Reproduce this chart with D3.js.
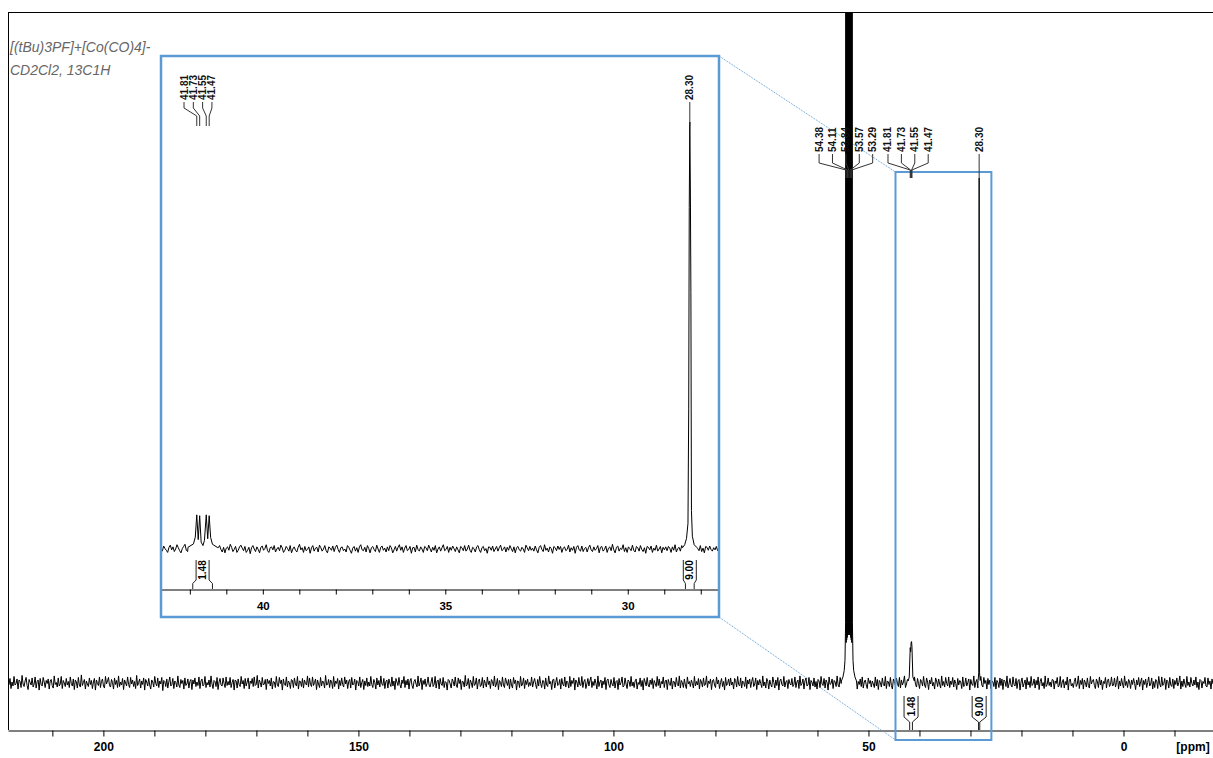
<!DOCTYPE html>
<html><head><meta charset="utf-8">
<script src="https://cdn.jsdelivr.net/npm/d3@7"></script>
<style>
body{margin:0;background:#fff;}
svg{display:block;font-family:Arial,"Liberation Sans",sans-serif;}
</style>
</head><body>
<svg id="chart" width="1213" height="758"></svg>
<script>
// ---------------- DATA ----------------
const titleLines = ["[(tBu)3PF]+[Co(CO)4]-", "CD2Cl2, 13C1H"];

const mainDomain = [218.7, -17.55];         // ppm shown in the main panel
const insetDomain = [42.79, 27.50];         // ppm shown in the expansion
const zoomBox = [44.7, 25.9];               // ppm marked by the blue box

const mainTickValues = [210,200,190,180,170,160,150,140,130,120,110,100,90,80,70,60,50,40,30,20,10,0,-10];
const mainTickLabels = [200,150,100,50,0];
const insetTickValues = [42,41,40,39,38,37,36,35,34,33,32,31,30,29,28];
const insetTickLabels = [40,35,30];

// baseline noise, main spectrum (intensity units; 28.30 peak = 1000)
const mainNoise = [
5,-3,9,-11,2,-6,13,-4,-1,8,-12,6,3,-9,15,-2,-7,4,11,-5,
-13,7,1,-4,10,-8,-2,12,-10,3,6,-14,9,-3,-6,11,2,-9,5,-1,
8,-12,4,7,-5,-10,14,-3,1,-8,10,-6,-2,13,-11,5,0,-7,9,-4,
3,-9,12,-1,-6,8,-13,6,2,-10,11,-4,-8,16,-5,1,7,-12,4,-2,
-7,10,-3,5,-11,2,9,-14,6,-1,-5,12,-9,3,8,-6,-10,13,-2,4,
11,-5,-8,7,1,-12,10,-3,5,-9,14,-7,2,-4,9,-13,6,0,-6,12,
-3,-9,11,-2,6,-7,3,-11,15,-5,1,8,-10,4,-3,10,-14,7,2,-6,
9,-4,-12,6,2,-8,13,-1,-6,10,-9,4,-2,11,-15,5,3,-7,8,-10,
2,12,-6,-3,9,-11,4,1,-8,14,-4,-9,7,-1,5,-12,10,-5,-2,8,
-10,3,7,-13,6,-2,10,-7,2,-5,12,-11,4,8,-6,-3,13,-9,1,-4,
6,-8,14,-2,-11,5,3,-7,11,-13,2,9,-4,-6,10,-1,-9,12,-5,3,
-4,11,-9,1,7,-14,6,4,-10,8,-3,-7,13,-2,5,-11,9,-6,2,10,
-12,4,-1,9,-7,12,-5,-3,15,-10,6,1,-8,11,-4,-2,7,-13,8,-1,
5,-6,10,-12,3,2,-9,13,-4,-7,11,-1,6,-14,8,-3,-5,12,-8,4,
1,-11,7,5,-9,10,-2,-6,13,-12,4,3,-7,9,-10,6,-1,-4,14,-8,
10,-3,-7,12,-5,1,8,-13,6,-2,-9,11,-6,4,2,-10,15,-4,-3,7,
-9,6,2,-11,13,-7,4,-1,9,-12,5,-5,10,-3,-8,12,-2,6,-11,3,
7,-10,11,-4,-2,8,-14,5,3,-6,12,-9,1,7,-13,4,-5,10,-7,2,
-6,13,-3,-9,7,1,-12,10,-4,5,-8,14,-2,-5,9,-11,3,6,-10,8,
-1,-7,12,-6,4,-13,9,2,-5,11,-3,-10,6,-1,13,-9,5,-4,8,-12,
4,9,-5,-11,3,7,-2,-8,14,-6,1,10,-13,5,-3,8,-7,-1,12,-4,
-8,2,11,-7,-3,13,-10,4,6,-12,9,-2,-5,11,-9,3,1,-14,7,5,
-2,-10,8,3,-6,12,-4,-9,10,-1,7,-13,4,2,-8,15,-6,-3,9,-11,
6,1,-9,13,-5,-2,10,-12,3,8,-7,-4,11,-10,6,-1,-8,12,-3,4,
-11,7,3,-6,14,-8,-2,9,-13,5,1,-7,12,-4,-9,10,2,-5,7,-12,
8,-4,-10,11,-1,6,-14,4,3,-9,13,-6,-2,10,-11,5,-3,8,-7,1,
-5,12,-8,2,9,-3,-11,7,-6,13,-1,-9,5,4,-12,10,-4,-7,14,-2,
3,-13,6,8,-10,1,11,-5,-3,7,-12,9,-2,-6,12,-8,4,1,-10,13,
-7,5,-1,10,-14,6,2,-8,11,-4,-5,13,-9,3,7,-11,-2,9,-6,4,
12,-9,3,-5,8,-1,-12,14,-7,2,6,-10,4,-3,11,-13,5,8,-4,-9,
7,-2,-6,11,-10,3,5,-13,9,-4,1,12,-8,-5,10,-2,-11,6,3,-7,
13,-6,2,-9,4,8,-12,1,-3,10,-7,5,-14,9,2,-6,11,-4,-8,6,
-3,9,-11,5,-1,-7,13,-5,8,-10,3,-2,12,-9,4,6,-13,7,-1,-5,
10,-12,4,2,-8,11,-3,-6,14,-10,5,1,-9,8,-4,-11,12,-2,3,-7,
6,-1,-10,13,-6,3,-4,9,-12,7,2,-8,10,-5,-3,14,-9,4,-1,8,
-13,5,7,-4,-9,12,-2,6,-11,1,9,-7,3,-14,11,-5,-1,8,-6,10,
-4,2,-12,9,5,-8,13,-3,-6,10,-10,4,1,-7,12,-11,6,-2,8,-9,
3,11,-7,-2,10,-13,5,-4,7,-1,-9,14,-6,2,-10,9,3,-12,6,-3,
-8,12,1,-10,6,-5,11,-14,4,8,-3,-6,13,-8,2,5,-11,7,-1,-4,
9,-7,-3,12,-9,2,6,-11,14,-5,-1,8,-12,4,10,-6,-4,11,-13,5,
1,-6,10,-8,3,-12,7,4,-9,13,-2,-5,9,-10,6,1,-14,12,-3,-1,
8,-11,5,2,-7,14,-4,-8,11,-1,6,-13,3,-5,12,-9,4,7,-6,-2,
-10,13,-5,1,9,-12,3,-3,8,-7,12,-10,2,6,-4,-11,10,-1,5,-8,
4,-2,-9,12,-6,7,-13,5,1,-8,10,-3,-6,13,-11,4,2,-7,11,-5,
-12,8,3,-5,10,-1,-7,11,-10,6,-4,2,14,-9,-2,7,-12,5,9,-3,
5,-10,12,-3,-8,9,-1,-11,7,3,-6,13,-4,-9,10,2,-13,6,-2,11,
-6,1,-12,10,4,-7,8,-2,-10,14,-5,3,-8,11,-1,-6,12,-9,4,-3,
11,-8,6,-1,-13,9,-4,5,2,-11,12,-7,-3,10,-6,1,8,-14,7,-2,
-5,14,-9,2,7,-10,3,-6,13,-4,-8,11,-1,5,-12,9,-3,6,-11,4,
2,-7,11,-12,5,1,-9,10,-5,8,-13,6,3,-7,14,-10,-2,9,-4,-8,
12,-3,-6,9,-11,4,7,-14,2,10,-8,-1,6,-12,11,-4,3,-9,13,-5,
-2,8,-10,5,-4,12,-13,3,9,-6,1,-11,14,-7,-3,10,-5,2,-8,7,
6,-12,4,-1,11,-8,-5,13,-9,2,7,-10,3,-4,12,-14,6,8,-6,-1,
-9,3,10,-7,-2,14,-11,5,-3,9,-12,6,1,-8,10,-5,-10,13,-2,4,
7,-5,-11,8,2,-9,12,-4,6,-13,3,-1,11,-10,5,8,-7,-3,12,-6,
-4,10,-8,1,13,-12,4,-6,9,-2,-10,14,-5,3,-9,7,2,-11,6,-3,
9,-1,-13,6,-4,11,-7,2,10,-14,5,-3,8,-9,1,12,-6,-2,10,-12,
3,-9,7,4,-11,13,-2,-8,12,-5,-1,9,-13,6,3,-10,11,-4,-7,8,
-11,5,-3,10,-6,1,14,-12,4,-7,8,-2,-9,13,-5,2,-8,11,-1,-6,
6,-4,12,-9,2,-13,7,5,-10,3,-1,11,-6,-8,10,-3,4,-12,8,-2
];

// baseline noise, expansion (same intensity units)
const insetNoise = [
2,-5,7,1,-3,-8,4,9,-2,5,-6,0,10,3,-4,-9,1,6,11,-3,
-6,4,-1,-8,3,7,-4,0,5,-10,-3,8,4,-2,-7,2,9,1,-5,-11,
0,7,-4,3,8,-1,-7,4,-9,2,5,-3,11,4,-6,-1,6,-8,-3,5,
9,2,-4,6,-8,-3,4,-11,3,8,0,-6,5,-1,-9,4,7,-3,1,10,
-4,-8,3,5,-2,8,-7,0,4,-4,9,3,-8,-3,6,1,-5,8,-9,0,
5,-3,-7,4,11,-2,3,-8,6,-4,-1,5,-10,3,8,-5,2,4,-7,9,
3,-5,0,8,-4,-9,5,2,-3,7,-6,4,9,-1,-8,3,5,-4,0,-7,
8,4,-3,-10,2,6,-5,3,-8,5,10,-2,-4,4,-7,8,1,-9,3,6,
-1,-6,9,0,-8,4,7,-3,2,-7,5,-4,8,3,-9,-2,6,-5,4,10,
-3,5,-8,2,8,-4,-1,6,-10,3,4,-7,9,-1,-5,5,0,-8,6,3,
-4,9,1,-7,4,-3,8,-9,0,5,-5,3,10,-4,-1,6,-8,4,-3,7,
1,-6,5,-2,-9,6,3,-4,8,-5,0,9,-3,-8,4,1,-7,5,8,-2,
-8,3,6,-4,1,-10,5,4,-3,7,-6,0,6,-5,3,9,-4,-1,5,-7,
4,-3,8,1,-6,5,-9,3,6,-2,-5,4,0,-8,9,3,-4,6,-3,2,
-5,7,-2,-9,4,8,-1,-6,10,-3,2,-7,5,1,-10,6,3,-4,7,-1,
6,-8,2,5,-4,-1,9,-7,3,-3,6,-10,4,8,-2,-5,7,-6,1,4,
-7,3,9,-2,-6,5,-3,1,8,-9,4,6,-5,-1,7,-8,2,5,-4,11,
-2,-9,4,7,-5,2,-1,10,-6,3,-8,5,1,-4,9,-3,-7,6,3,-5,
8,-1,-6,3,-10,6,4,-2,7,-8,2,-3,9,-5,0,6,-9,4,-2,5,
-4,6,2,-8,5,-3,10,-7,1,4,-5,8,-2,-6,3,7,-8,2,5,-3,
3,-7,5,1,-4,8,-6,2,-9,6,4,-3,7,-1,-5,3,-2,6,-4,1
];

// peaks as [ppm, intensity] points
const solventPeak = [[55.3,4],[55.0,12],[54.75,25],[54.6,45],[54.48,120],
  [54.42,4000],[54.37,80],[54.32,4000],[54.27,85],[54.22,4000],[54.17,90],[54.12,4000],[54.07,95],[54.02,4000],
  [53.97,95],[53.92,4000],[53.87,100],[53.82,4000],[53.77,100],[53.72,4000],[53.67,95],[53.62,4000],[53.57,95],
  [53.52,4000],[53.47,90],[53.42,4000],[53.37,85],[53.32,4000],[53.27,80],[53.22,4000],
  [53.15,120],[53.03,45],[52.9,25],[52.65,12],[52.35,4]];
const mainPeak41 = [[42.2,4],[42.0,12],[41.81,70],[41.73,62],[41.64,80],[41.55,82],[41.47,72],[41.3,12],[41.0,4]];
const mainPeak28 = [[28.5,5],[28.38,20],[28.30,1000],[28.22,20],[28.1,5]];
const insetPeak41 = [[42.05,4],[41.9,12],[41.85,28],[41.81,80],[41.77,22],[41.73,78],[41.69,16],[41.64,8],[41.60,20],[41.55,80],[41.51,24],[41.47,78],[41.43,27],[41.38,11],[41.25,4]];
const insetPeak28 = [[28.50,3],[28.44,10],[28.39,25],[28.35,60],[28.33,330],[28.315,800],[28.30,1000],[28.285,850],[28.27,600],[28.255,90],[28.23,30],[28.18,10],[28.10,3]];

// peak picking labels (grouped)
const mainLabelGroups = [[54.38,54.11,53.84,53.57,53.29],[41.81,41.73,41.55,41.47],[28.30]];
const insetLabelGroups = [[41.81,41.73,41.55,41.47],[28.30]];

// integrals
const integralStart = [41.92, 28.42];
const integralEnd = [41.38, 28.18];
const integralValues = ["1.48", "9.00"];

// ---------------- DRAWING ----------------
const svg = d3.select("#chart");
const BLUE = "#5b9bd5";

const xMain = d3.scaleLinear().domain(mainDomain).range([8, 1213]);
const yMain = d3.scaleLinear().domain([0, 1000]).range([683, 178]);
const xIn = d3.scaleLinear().domain(insetDomain).range([161, 719]);
const yIn = d3.scaleLinear().domain([0, 1000]).range([549, 122]);

function buildSpectrum(noise, domain, peaks) {
  const n = noise.length;
  const step = (domain[1] - domain[0]) / (n - 1);
  let pts = noise.map((v, i) => [domain[0] + i * step, v]);
  peaks.forEach(p => {
    const hi = p[0][0], lo = p[p.length - 1][0];
    pts = pts.filter(d => d[0] > hi || d[0] < lo).concat(p);
  });
  return pts.sort((a, b) => b[0] - a[0]);
}

const defs = svg.append("defs");
defs.append("clipPath").attr("id", "mainClip")
  .append("rect").attr("x", 8).attr("y", 12).attr("width", 1205).attr("height", 718);
defs.append("clipPath").attr("id", "inClip")
  .append("rect").attr("x", 161).attr("y", 56).attr("width", 558).attr("height", 561);

// frame
svg.append("line").attr("x1", 8.5).attr("x2", 8.5).attr("y1", 12).attr("y2", 730).attr("stroke", "#000");
svg.append("line").attr("x1", 8).attr("x2", 1213).attr("y1", 12.5).attr("y2", 12.5).attr("stroke", "#000");

// title
svg.append("g").selectAll("text").data(titleLines).join("text")
  .attr("x", 10).attr("y", (d, i) => 52 + i * 23)
  .attr("font-size", 14).attr("font-style", "italic").attr("fill", "#666")
  .text(d => d);

// main axis
const mainAxis = d3.axisBottom(xMain).tickValues(mainTickValues)
  .tickFormat(d => mainTickLabels.includes(d) ? d : "").tickSize(6).tickSizeOuter(0).tickPadding(6);
const gAx = svg.append("g").attr("transform", "translate(0,730.5)").call(mainAxis);
gAx.selectAll("text").attr("font-size", 12).attr("font-weight", "bold").attr("fill", "#000").attr("font-family", "Arial, Liberation Sans, sans-serif");
gAx.select(".domain").attr("stroke", "#000");
svg.append("text").attr("x", 1193).attr("y", 730.5 + 6 + 6).attr("dy", "0.71em")
  .attr("text-anchor", "middle").attr("font-size", 12).attr("font-weight", "bold").text("[ppm]");

// dotted connectors
const bx0 = xMain(zoomBox[0]), bx1 = xMain(zoomBox[1]);
svg.append("line").attr("x1", 719).attr("y1", 56).attr("x2", bx0).attr("y2", 172)
  .attr("stroke", BLUE).attr("stroke-dasharray", "1,1");
svg.append("line").attr("x1", 719).attr("y1", 617).attr("x2", bx0).attr("y2", 740)
  .attr("stroke", BLUE).attr("stroke-dasharray", "1,1");

// main spectrum
const mainPts = buildSpectrum(mainNoise, mainDomain, [solventPeak, mainPeak41, mainPeak28]);
svg.append("path").attr("clip-path", "url(#mainClip)")
  .attr("d", d3.line().x(d => xMain(d[0])).y(d => yMain(d[1]))(mainPts))
  .attr("fill", "none").attr("stroke", "#000").attr("stroke-width", 1);

// zoom box
svg.append("rect").attr("x", bx0).attr("y", 172).attr("width", bx1 - bx0).attr("height", 568)
  .attr("fill", "none").attr("stroke", BLUE).attr("stroke-width", 2);

function drawLabels(groups, x, cfg) {
  const g = svg.append("g");
  groups.forEach(grp => {
    const pxs = grp.map(p => x(p));
    const mean = d3.mean(pxs) + (grp.length > 1 ? cfg.offset : 0);
    grp.forEach((p, i) => {
      const lx = mean + (i - (grp.length - 1) / 2) * cfg.spacing;
      g.append("text").attr("transform", `translate(${lx},${cfg.textBottom}) rotate(-90)`)
        .attr("dy", "0.35em").attr("font-size", cfg.fontSize).attr("font-weight", "bold").attr("fill", "#111")
        .text(p.toFixed(2));
      g.append("path").attr("d", `M${lx},${cfg.textBottom + 2}V${cfg.v1}L${pxs[i]},${cfg.v2}V${cfg.v3}`)
        .attr("fill", "none").attr("stroke", "#333").attr("stroke-width", 1);
    });
  });
}

function drawIntegrals(x, cfg) {
  const g = svg.append("g");
  integralValues.forEach((v, i) => {
    const a = x(integralStart[i]), b = x(integralEnd[i]);
    const cx = (a + b) / 2;
    const l = cx - cfg.half, r = cx + cfg.half;
    g.append("path").attr("d",
      `M${l},${cfg.top}V${cfg.boxBottom}L${a},${cfg.funnel}V${cfg.axisY}` +
      `M${r},${cfg.top}V${cfg.boxBottom}L${b},${cfg.funnel}V${cfg.axisY}`)
      .attr("fill", "none").attr("stroke", "#222").attr("stroke-width", 1);
    g.append("text").attr("transform", `translate(${cx},${(cfg.top + cfg.boxBottom) / 2}) rotate(-90)`)
      .attr("dy", "0.35em").attr("text-anchor", "middle").attr("font-size", cfg.fontSize)
      .attr("font-weight", "bold").text(v);
  });
}

drawLabels(mainLabelGroups, xMain, {textBottom: 152, v1: 163, v2: 170, v3: 178, spacing: 13.4, offset: -3, fontSize: 10});
drawIntegrals(xMain, {top: 696, boxBottom: 717, funnel: 722, axisY: 730, half: 7, fontSize: 10});

// ---------------- INSET ----------------
svg.append("rect").attr("x", 161).attr("y", 56).attr("width", 558).attr("height", 561).attr("fill", "#fff");

const inPts = buildSpectrum(insetNoise, insetDomain, [insetPeak41, insetPeak28]);
svg.append("path").attr("clip-path", "url(#inClip)")
  .attr("d", d3.line().x(d => xIn(d[0])).y(d => yIn(d[1]))(inPts))
  .attr("fill", "none").attr("stroke", "#000").attr("stroke-width", 1);

const inAxis = d3.axisBottom(xIn).tickValues(insetTickValues)
  .tickFormat(d => insetTickLabels.includes(d) ? d : "").tickSize(5).tickSizeOuter(0).tickPadding(7);
const gIn = svg.append("g").attr("transform", "translate(0,589.5)").call(inAxis);
gIn.selectAll("text").attr("font-size", 11.5).attr("font-weight", "bold").attr("fill", "#000").attr("font-family", "Arial, Liberation Sans, sans-serif");
gIn.select(".domain").attr("stroke", "#000");

drawLabels(insetLabelGroups, xIn, {textBottom: 100, v1: 108, v2: 116, v3: 126, spacing: 9.3, offset: -5, fontSize: 10});
drawIntegrals(xIn, {top: 560, boxBottom: 580, funnel: 583.5, axisY: 589, half: 6.5, fontSize: 10});

svg.append("rect").attr("x", 161).attr("y", 56).attr("width", 558).attr("height", 561)
  .attr("fill", "none").attr("stroke", BLUE).attr("stroke-width", 2.5);
</script>
</body></html>
